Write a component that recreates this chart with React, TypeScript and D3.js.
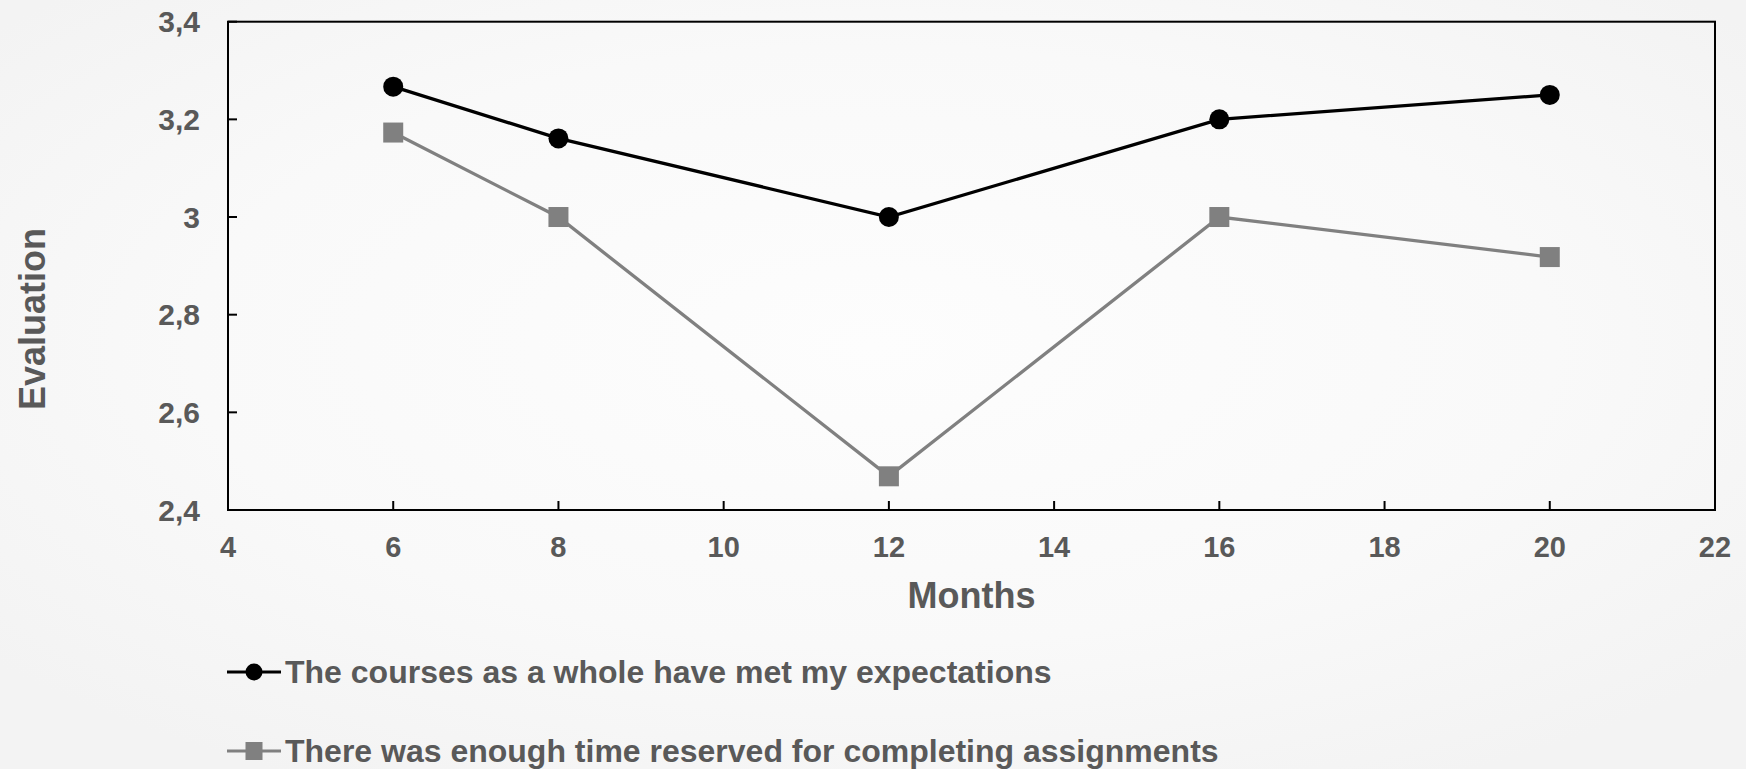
import React from "react";
import * as d3 from "d3";

const months = [6, 8, 12, 16, 20];
const expectations = [3.267, 3.161, 3.0, 3.2, 3.25];
const timeReserved = [3.173, 3.0, 2.469, 3.0, 2.918];
const xTicks = [4, 6, 8, 10, 12, 14, 16, 18, 20, 22];
const yTicks = [2.4, 2.6, 2.8, 3.0, 3.2, 3.4];
const seriesNames = [
  "The courses as a whole have met my expectations",
  "There was enough time reserved for completing assignments",
];

const W = 1746;
const H = 769;
const FONT = "'Liberation Sans', Arial, Helvetica, sans-serif";
const TXT = "#595959";

export default function App() {
  const x = d3.scaleLinear().domain([4, 22]).range([228, 1715]);
  const y = d3.scaleLinear().domain([2.4, 3.4]).range([510, 21.7]);
  const line = d3
    .line<[number, number]>()
    .x((d) => x(d[0]))
    .y((d) => y(d[1]));
  const s1: [number, number][] = months.map((m, i) => [m, expectations[i]]);
  const s2: [number, number][] = months.map((m, i) => [m, timeReserved[i]]);
  const fmt = (v: number) => d3.format("~g")(+v.toFixed(1)).replace(".", ",");
  const [x0, x1] = x.range();
  const [y0, y1] = y.range();

  return (
    <svg
      width={W}
      height={H}
      style={{ position: "absolute", left: 0, top: 0, display: "block" }}
    >
      <defs>
        <radialGradient id="bg" cx="50%" cy="45%" r="65%">
          <stop offset="0%" stopColor="#fdfdfd" />
          <stop offset="60%" stopColor="#f9f9f9" />
          <stop offset="100%" stopColor="#f3f3f3" />
        </radialGradient>
      </defs>
      <rect x={0} y={0} width={W} height={H} fill="url(#bg)" />

      {/* plot frame */}
      <rect
        x={x0}
        y={y1}
        width={x1 - x0}
        height={y0 - y1}
        fill="none"
        stroke="#000"
        strokeWidth={2}
      />
      {/* y ticks */}
      {yTicks.map((t) => (
        <g key={"y" + t}>
          <line x1={x0} x2={x0 + 9} y1={y(t)} y2={y(t)} stroke="#000" strokeWidth={2} />
          <text
            x={200}
            y={y(t)}
            dy="0.355em"
            textAnchor="end"
            fontFamily={FONT}
            fontWeight="bold"
            fontSize={30}
            fill={TXT}
          >
            {fmt(t)}
          </text>
        </g>
      ))}
      {/* x ticks */}
      {xTicks.map((t) => (
        <g key={"x" + t}>
          <line x1={x(t)} x2={x(t)} y1={y0} y2={y0 - 9} stroke="#000" strokeWidth={2} />
          <text
            x={x(t)}
            y={557}
            textAnchor="middle"
            fontFamily={FONT}
            fontWeight="bold"
            fontSize={29}
            fill={TXT}
          >
            {t}
          </text>
        </g>
      ))}

      {/* axis titles */}
      <text
        x={(x0 + x1) / 2}
        y={608}
        textAnchor="middle"
        fontFamily={FONT}
        fontWeight="bold"
        fontSize={36}
        fill={TXT}
      >
        Months
      </text>
      <text
        transform="translate(45,319) rotate(-90)"
        textAnchor="middle"
        fontFamily={FONT}
        fontWeight="bold"
        fontSize={36}
        fill={TXT}
      >
        Evaluation
      </text>

      {/* series 2 (gray squares) */}
      <path d={line(s2) || ""} fill="none" stroke="#808080" strokeWidth={3.3} />
      {s2.map((d, i) => (
        <rect
          key={"s2" + i}
          x={x(d[0]) - 10}
          y={y(d[1]) - 10}
          width={20}
          height={20}
          fill="#808080"
        />
      ))}
      {/* series 1 (black circles) */}
      <path d={line(s1) || ""} fill="none" stroke="#000" strokeWidth={3.3} />
      {s1.map((d, i) => (
        <circle key={"s1" + i} cx={x(d[0])} cy={y(d[1])} r={10} fill="#000" />
      ))}

      {/* legend */}
      <g>
        <line x1={227} x2={281} y1={672} y2={672} stroke="#000" strokeWidth={3} />
        <circle cx={254} cy={672} r={8.5} fill="#000" />
        <text x={285} y={683} fontFamily={FONT} fontWeight="bold" fontSize={32} fill={TXT}>
          {seriesNames[0]}
        </text>
        <line x1={227} x2={281} y1={751} y2={751} stroke="#808080" strokeWidth={3} />
        <rect x={245.5} y={742} width={17} height={18} fill="#808080" />
        <text x={285} y={762} fontFamily={FONT} fontWeight="bold" fontSize={32} fill={TXT}>
          {seriesNames[1]}
        </text>
      </g>
    </svg>
  );
}
